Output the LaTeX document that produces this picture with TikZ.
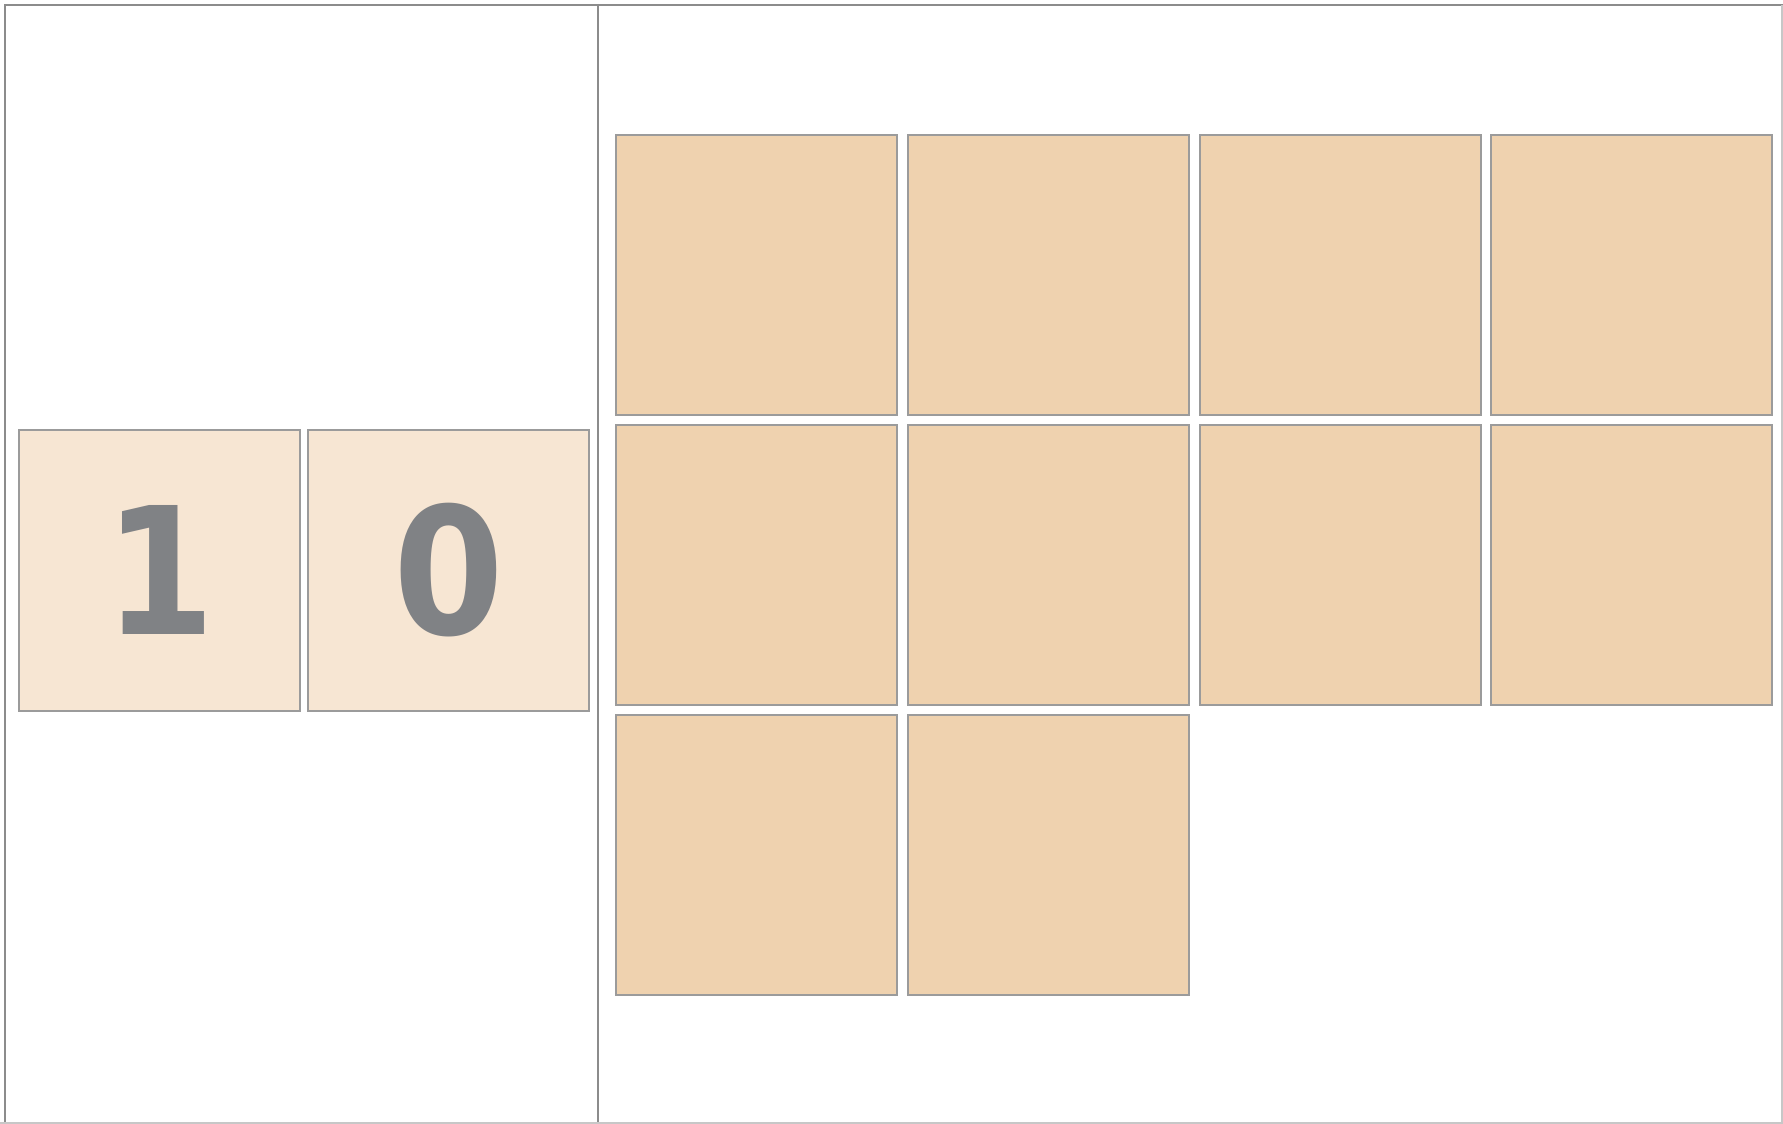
\documentclass[tikz,border=0pt]{standalone}
\usepackage{fontspec}
\setmainfont{DejaVu Sans}
\newfontfamily\digfont{DejaVu Sans Condensed Bold}
\definecolor{cellA}{HTML}{EFD2AF}
\definecolor{cellB}{HTML}{F7E6D3}
\definecolor{edgeC}{HTML}{9B9B9B}
\definecolor{frameC}{HTML}{8C8C8C}
\definecolor{digitC}{HTML}{808285}
\tikzset{
  cell/.style={draw=edgeC, line width=2pt, inner sep=0pt, minimum width=281pt, minimum height=280pt, anchor=north west},
  digitcell/.style={cell, fill=cellB, minimum height=281pt},
  bigcell/.style={cell, fill=cellA},
  digit/.style={text=digitC, font=\fontsize{177}{177}\selectfont\digfont, inner sep=0pt}
}
\begin{document}
\begin{tikzpicture}[x=1pt,y=-1pt]
\useasboundingbox (0,0) rectangle (1783,1124);
\fill[white] (0,0) rectangle (1783,1124);
% frame
\draw[frameC, line width=2pt] (5,1124) -- (5,5) -- (1783,5);
\draw[frameC, line width=2pt] (598.3,4) -- (598.3,1124);
\draw[black!22, line width=1.5pt] (1782,5) -- (1782,1124);
\draw[black!22, line width=1.5pt] (0,1123.2) -- (1783,1123.2);
% left digit cells
\node[digitcell] (d1) at (18.2,428.7) {};
\node[digitcell] (d0) at (307,428.7) {};
\node[digit] at (d1.center) {1};
\node[digit] at (d0.center) {0};
% right cells
\node[bigcell] (r11) at (615,134.2) {};
\node[bigcell] (r12) at (906.8,134.2) {};
\node[bigcell] (r13) at (1198.6,134.2) {};
\node[bigcell] (r14) at (1490.4,134.2) {};
\node[bigcell] (r21) at (615,424.2) {};
\node[bigcell] (r22) at (906.8,424.2) {};
\node[bigcell] (r23) at (1198.6,424.2) {};
\node[bigcell] (r24) at (1490.4,424.2) {};
\node[bigcell] (r31) at (615,714.2) {};
\node[bigcell] (r32) at (906.8,714.2) {};
\end{tikzpicture}
\end{document}
